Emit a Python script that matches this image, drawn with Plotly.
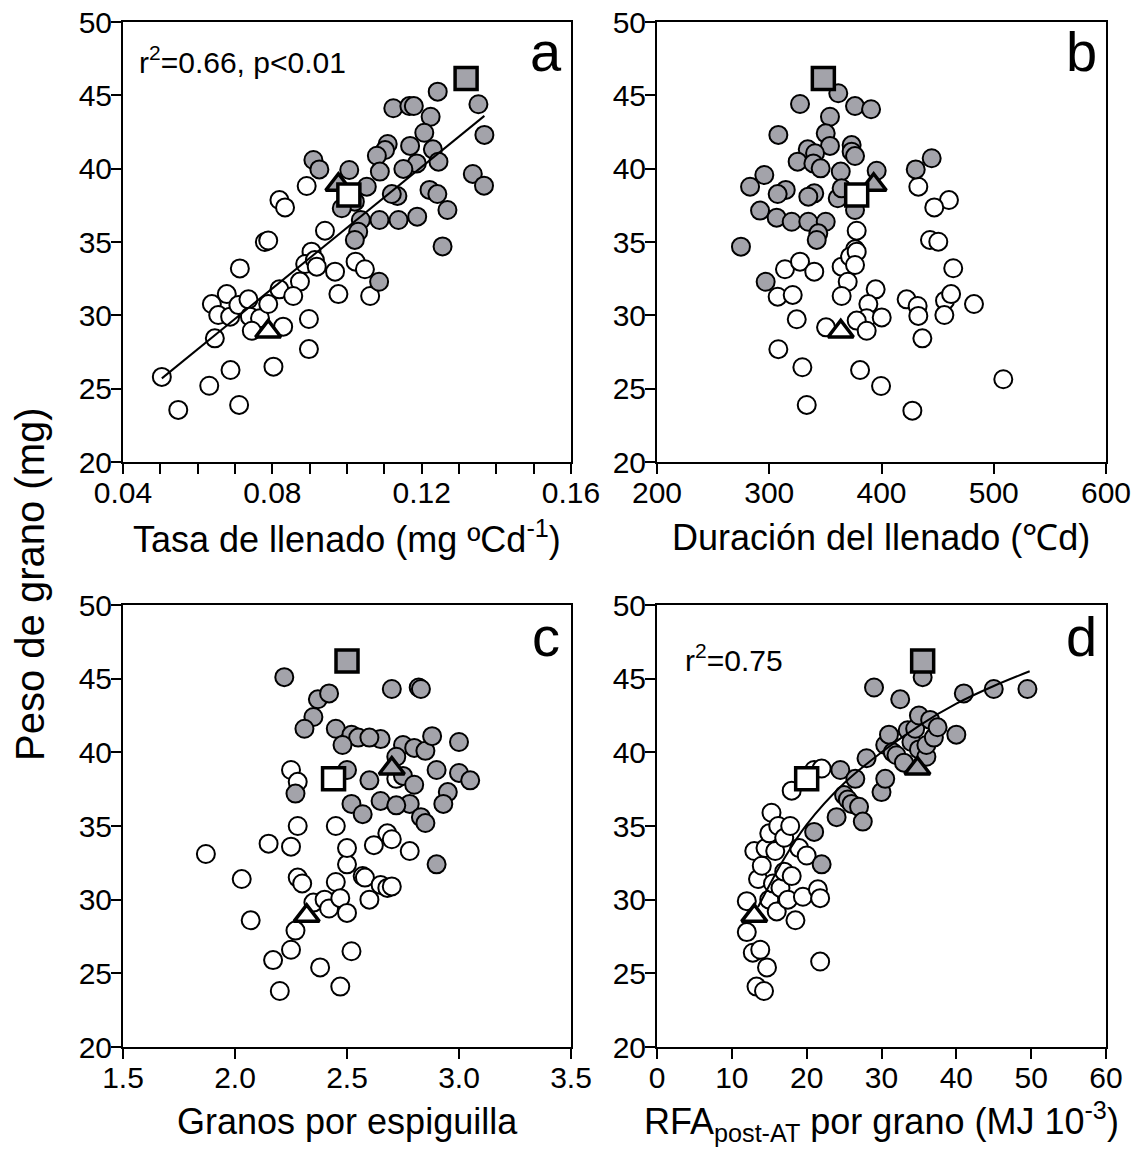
import plotly.graph_objects as go

# ---------------- data ----------------
# Panel a: Tasa de llenado vs Peso de grano
a_open_x = [0.0892, 0.0819, 0.0834, 0.0941, 0.0780, 0.0789, 0.0713, 0.0905, 0.0888, 0.0914, 0.0919, 0.0968,
            0.0977, 0.0874, 0.0819, 0.0856, 0.0678, 0.0638, 0.0655, 0.0687, 0.0709, 0.0736, 0.0740, 0.0767,
            0.0789, 0.0745, 0.0829, 0.0646, 0.0898, 0.0898, 0.0803, 0.0688, 0.0631, 0.0504, 0.0548, 0.0711,
            0.1023, 0.1048, 0.1062]
a_open_y = [38.82, 37.86, 37.36, 35.77, 35.0, 35.1, 33.2, 34.34, 33.5, 33.77, 33.32, 32.98,
            31.45, 32.3, 31.77, 31.32, 31.45, 30.77, 30.02, 29.91, 30.7, 31.09, 29.91, 29.8,
            30.77, 28.95, 29.23, 28.43, 29.75, 27.7, 26.5, 26.27, 25.2, 25.8, 23.55, 23.89,
            33.66, 33.14, 31.32]
a_grey_x = [0.1352, 0.1243, 0.1124, 0.1167, 0.1179, 0.1224, 0.1368, 0.1207, 0.1109, 0.1102, 0.1080, 0.1169,
            0.1230, 0.1245, 0.1187, 0.1151, 0.1088, 0.1006, 0.1337, 0.1367, 0.1221, 0.1242, 0.1053, 0.1135,
            0.1120, 0.1021, 0.1269, 0.1037, 0.1087, 0.1138, 0.1188, 0.1030, 0.1021, 0.1256, 0.1086, 0.0910,
            0.0926, 0.0986]
a_grey_y = [44.39, 45.25, 44.12, 44.27, 44.27, 43.54, 42.3, 42.45, 41.68, 41.27, 40.88, 41.55,
            41.32, 40.48, 40.36, 39.98, 39.80, 39.91, 39.64, 38.84, 38.55, 38.27, 38.77, 38.14,
            38.27, 37.75, 37.18, 36.5, 36.5, 36.5, 36.73, 35.7, 35.14, 34.7, 32.29, 40.59,
            39.95, 37.3]
a_sq_grey = (0.1319, 46.15)
a_sq_white = (0.1005, 38.2)
a_tri_grey = (0.0977, 38.9)
a_tri_white = (0.0789, 28.9)
a_fit_x = [0.0504, 0.1368]
a_fit_y = [25.7, 43.6]

# Panel b: Duracion del llenado
b_open_x = [377.9, 376.4, 432.8, 460.1, 447, 443.2, 450.6, 314, 327.4, 340.1, 307.5, 320.9, 324.5, 308.1,
            329.5, 333.4, 350.6, 364.5, 372, 377.9, 376.4, 369.9, 364.5, 394.8, 388.3, 386.8, 377.9, 386.8,
            400.2, 380.9, 399.6, 463.9, 422.4, 432.2, 432.8, 436.4, 456.6, 462, 456, 482.4, 508.5, 427.5]
b_open_y = [35.77, 34.5, 38.77, 37.86, 37.36, 35.14, 35.02, 33.14, 33.66, 32.98, 31.27, 31.39, 29.73, 27.69,
            26.46, 23.89, 29.18, 33.32, 34.0, 34.34, 33.43, 32.29, 31.32, 31.77, 30.77, 29.8, 29.64, 28.95,
            29.86, 26.27, 25.18, 33.21, 31.09, 30.64, 29.96, 28.43, 31.0, 31.45, 30.02, 30.77, 25.64, 23.5]
b_grey_x = [361.5, 327.4, 376.4, 390.7, 354.1, 350.3, 308.1, 354.1, 373.4, 373.4, 376.4, 334.3, 340.8,
            325.3, 339.3, 345.8, 363.7, 395.7, 295.6, 282.9, 314.7, 307.5, 340.1, 334.8, 361, 364.5, 291.8,
            306.6, 320, 334.8, 350.3, 376.4, 343.7, 342.3, 274.8, 296.8, 444.7, 430.5]
b_grey_y = [45.14, 44.41, 44.27, 44.05, 43.54, 42.41, 42.3, 41.55, 41.61, 41.16, 40.86, 41.32, 41.05,
            40.48, 40.36, 40.02, 39.8, 39.86, 39.57, 38.77, 38.55, 38.27, 38.32, 38.09, 37.98, 38.66, 37.14,
            36.66, 36.38, 36.38, 36.38, 37.18, 35.59, 35.14, 34.68, 32.29, 40.71, 39.95]
b_sq_grey = (348.2, 46.15)
b_sq_white = (377.9, 38.2)
b_tri_grey = (393.0, 38.9)
b_tri_white = (363.7, 28.9)

# Panel c: Granos por espiguilla
c_open_x = [1.87, 2.03, 2.07, 2.15, 2.17, 2.20, 2.25, 2.27, 2.25, 2.28, 2.28, 2.30, 2.25, 2.28, 2.35, 2.38,
            2.40, 2.42, 2.45, 2.45, 2.47, 2.47, 2.50, 2.50, 2.52, 2.50, 2.57, 2.58, 2.60, 2.62, 2.65, 2.68,
            2.68, 2.70, 2.70, 2.78, 2.72]
c_open_y = [33.1, 31.4, 28.6, 33.8, 25.9, 23.8, 26.6, 27.9, 33.6, 35.0, 31.5, 31.1, 38.8, 38.0, 29.8, 25.4,
            30.0, 29.4, 31.2, 35.0, 24.1, 30.1, 29.1, 32.4, 26.5, 33.5, 31.6, 31.5, 30.0, 33.7, 31.0, 30.8,
            34.5, 34.1, 30.9, 33.3, 38.2]
c_grey_x = [2.22, 2.37, 2.35, 2.31, 2.42, 2.45, 2.52, 2.55, 2.65, 2.70, 2.82, 2.83, 2.75, 2.80, 2.85, 2.88,
            3.00, 2.72, 2.60, 2.50, 2.90, 2.95, 2.93, 3.00, 3.05, 2.75, 2.80, 2.78, 2.83, 2.85, 2.52, 2.57,
            2.65, 2.72, 2.27, 2.90, 2.60, 2.48]
c_grey_y = [45.1, 43.6, 42.4, 41.6, 44.0, 41.6, 41.2, 41.0, 40.9, 44.3, 44.4, 44.3, 40.5, 40.3, 40.1, 41.1,
            40.7, 39.7, 38.1, 38.8, 38.8, 37.3, 36.5, 38.6, 38.1, 38.4, 37.8, 36.5, 35.6, 35.2, 36.5, 35.8,
            36.7, 36.4, 37.2, 32.4, 41.0, 40.5]
c_sq_grey = (2.50, 46.2)
c_sq_white = (2.44, 38.2)
c_tri_grey = (2.70, 38.9)
c_tri_white = (2.32, 28.9)

# Panel d: RFA post-AT por grano
d_open_x = [12.0, 12.0, 12.8, 13.0, 13.3, 13.5, 13.8, 14.0, 14.3, 14.5, 14.7, 15.0, 15.0, 15.3, 15.5, 15.8,
            16.0, 16.2, 16.5, 17.0, 17.0, 17.5, 17.8, 18.0, 18.0, 18.5, 19.0, 19.5, 20.0, 21.0, 21.5, 21.8,
            21.8, 22.0]
d_open_y = [29.9, 27.8, 26.4, 33.3, 24.1, 31.4, 26.6, 32.3, 23.8, 33.5, 25.4, 30.0, 34.5, 35.9, 31.1, 33.3,
            29.2, 35.0, 30.8, 31.9, 34.2, 30.0, 35.0, 37.4, 31.6, 28.6, 33.5, 30.2, 33.0, 38.8, 30.7, 30.1,
            25.8, 38.9]
d_grey_x = [21.0, 22.0, 24.0, 24.5, 25.0, 25.5, 26.0, 26.5, 27.0, 27.5, 28.0, 29.0, 30.0, 30.5, 30.5, 31.0,
            31.5, 32.0, 32.5, 33.0, 33.5, 34.0, 34.5, 35.0, 35.0, 35.5, 36.0, 36.0, 36.5, 37.0, 37.5, 40.0,
            41.0, 45.0, 49.5]
d_grey_y = [34.6, 32.4, 35.6, 38.8, 37.1, 36.8, 36.5, 38.2, 36.3, 35.3, 39.6, 44.4, 37.3, 38.2, 40.5, 41.2,
            40.0, 39.8, 43.6, 39.3, 41.5, 40.7, 41.6, 42.5, 40.2, 45.1, 39.7, 40.5, 42.2, 41.0, 41.7, 41.2,
            44.0, 44.3, 44.3]
d_sq_grey = (35.5, 46.2)
d_sq_white = (20.0, 38.2)
d_tri_grey = (34.8, 38.9)
d_tri_white = (13.0, 28.9)
d_fit_x = [13.5, 17, 20, 25, 30, 35, 40, 45, 49.8]
d_fit_y = [29.5, 32.8, 35.1, 37.9, 40.0, 41.8, 43.3, 44.5, 45.5]

# ---------------- styling ----------------
FONT = "Liberation Sans, Arial, sans-serif"
GREY = "#A3A3AA"
W, H = 1147, 1154

fig = go.Figure()


def add_panel(n, ox, oy, gx, gy, sqg, sqw, trg, trw, fit=None, fit_shape="linear"):
    xa = "x" if n == 1 else f"x{n}"
    ya = "y" if n == 1 else f"y{n}"
    fig.add_trace(go.Scatter(x=ox, y=oy, mode="markers", xaxis=xa, yaxis=ya, showlegend=False,
                             marker=dict(symbol="circle", size=18, color="white",
                                         line=dict(color="black", width=2))))
    fig.add_trace(go.Scatter(x=gx, y=gy, mode="markers", xaxis=xa, yaxis=ya, showlegend=False,
                             marker=dict(symbol="circle", size=18, color=GREY,
                                         line=dict(color="black", width=2))))
    if fit is not None:
        fig.add_trace(go.Scatter(x=fit[0], y=fit[1], mode="lines", xaxis=xa, yaxis=ya,
                                 line=dict(color="black", width=2, shape=fit_shape), showlegend=False,
                                 hoverinfo="skip"))
    fig.add_trace(go.Scatter(x=[trg[0], trw[0]], y=[trg[1], trw[1]], mode="markers", xaxis=xa, yaxis=ya,
                             showlegend=False,
                             marker=dict(symbol="triangle-up", size=22, color=[GREY, "white"],
                                         line=dict(color="black", width=3.5))))
    fig.add_trace(go.Scatter(x=[sqg[0], sqw[0]], y=[sqg[1], sqw[1]], mode="markers", xaxis=xa, yaxis=ya,
                             showlegend=False,
                             marker=dict(symbol="square", size=22, color=[GREY, "white"],
                                         line=dict(color="black", width=3.5))))


add_panel(1, a_open_x, a_open_y, a_grey_x, a_grey_y, a_sq_grey, a_sq_white, a_tri_grey, a_tri_white,
          fit=(a_fit_x, a_fit_y))
add_panel(2, b_open_x, b_open_y, b_grey_x, b_grey_y, b_sq_grey, b_sq_white, b_tri_grey, b_tri_white)
add_panel(3, c_open_x, c_open_y, c_grey_x, c_grey_y, c_sq_grey, c_sq_white, c_tri_grey, c_tri_white)
add_panel(4, d_open_x, d_open_y, d_grey_x, d_grey_y, d_sq_grey, d_sq_white, d_tri_grey, d_tri_white,
          fit=(d_fit_x, d_fit_y), fit_shape="spline")

# plot-area pixel boxes
box = {
    1: (123, 571, 22, 462),
    2: (657, 1106, 22, 462),
    3: (123, 571, 605, 1047),
    4: (657, 1106, 605, 1047),
}


def axis_common():
    return dict(showline=True, linecolor="black", linewidth=2, mirror=True, ticks="outside",
                ticklen=10, tickwidth=2, tickcolor="black", showgrid=False, zeroline=False,
                automargin=False, tickfont=dict(family=FONT, size=30, color="black"))


xranges = {1: [0.04, 0.16], 2: [200, 600], 3: [1.5, 3.5], 4: [0, 60]}
xdt = {1: 0.04, 2: 100, 3: 0.5, 4: 10}
xfmt = {1: ".2f", 2: "d", 3: ".1f", 4: "d"}

layout = {}
for n in range(1, 5):
    x0, x1, y0, y1 = box[n]
    xk = "xaxis" if n == 1 else f"xaxis{n}"
    yk = "yaxis" if n == 1 else f"yaxis{n}"
    xa = axis_common()
    xa.update(domain=[x0 / W, x1 / W], range=xranges[n], tick0=xranges[n][0], dtick=xdt[n],
              tickformat=xfmt[n], anchor="y" if n == 1 else f"y{n}", ticklabelstandoff=-7)
    if n == 1:
        xa.update(minor=dict(dtick=0.01, tick0=0.04, ticks="outside", ticklen=10, tickwidth=2,
                             tickcolor="black", showgrid=False))
    ya = axis_common()
    ya.update(domain=[1 - y1 / H, 1 - y0 / H], range=[20, 50], tick0=20, dtick=5,
              anchor="x" if n == 1 else f"x{n}", ticklabelstandoff=-7)
    layout[xk] = xa
    layout[yk] = ya

ann = []


def txt(x, y, s, size, **kw):
    d = dict(x=x / W, y=1 - y / H, xref="paper", yref="paper", text=s, showarrow=False,
             font=dict(family=FONT, size=size, color="black"), xanchor="center", yanchor="middle")
    d.update(kw)
    ann.append(d)


# panel letters
txt(546, 52, "a", 56)
txt(1081, 52, "b", 56)
txt(546, 636, "c", 56)
txt(1081, 636, "d", 56)
# statistics
txt(137, 60, "r<sup>2</sup>=0.66, p<0.01", 30, xanchor="left")
txt(683, 658, "r<sup>2</sup>=0.75", 30, xanchor="left")
# axis titles
txt(347, 537, "Tasa de llenado (mg ºCd<sup>-1</sup>)", 36)
txt(881, 537, "Duración del llenado (℃d)", 36)
txt(347, 1121, "Granos por espiguilla", 36)
txt(881, 1121, "RFA<sub>post-AT</sub> por grano (MJ 10<sup>-3</sup>)", 36)
txt(30, 584, "Peso de grano (mg)", 40, textangle=-90)

fig.update_layout(width=W, height=H, margin=dict(l=0, r=0, t=0, b=0, autoexpand=False),
                  paper_bgcolor="white", plot_bgcolor="white", annotations=ann, **layout)

fig.write_html("out.html")
